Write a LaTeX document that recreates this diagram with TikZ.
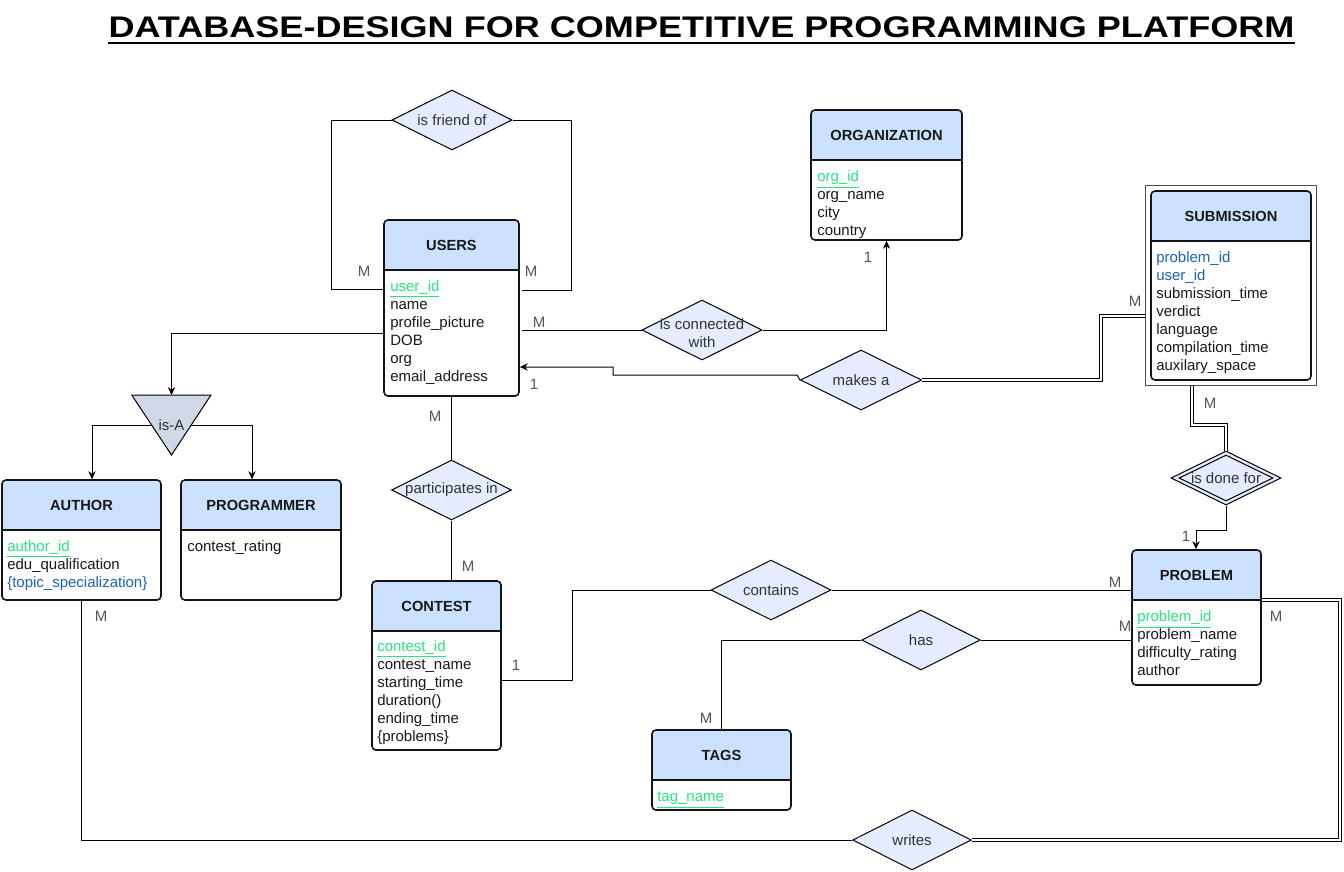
\documentclass[tikz,border=0pt]{standalone}
\usepackage{fontspec}
\setmainfont{Liberation Sans}
\usepackage{graphicx}
\usetikzlibrary{shapes.geometric,arrows.meta,fit,calc}
\definecolor{hdrfill}{RGB}{204,225,255}
\definecolor{diafill}{RGB}{230,236,255}
\definecolor{trifill}{RGB}{208,216,232}
\definecolor{keygreen}{RGB}{40,228,130}
\definecolor{fkblue}{RGB}{30,100,180}
\definecolor{txtdark}{RGB}{25,25,25}
\definecolor{diatext}{RGB}{50,50,50}
\definecolor{cardgray}{RGB}{85,85,85}
\definecolor{entline}{RGB}{20,20,20}
\newcommand\pk[1]{\textcolor{keygreen}{\underline{#1}}}
\newcommand\fk[1]{\textcolor{fkblue}{#1}}
\newcommand\erent[7]{%
  \fill[hdrfill,rounded corners=3pt] (#2,#6) -- (#2,#3) -- (#4,#3) -- (#4,#6);
  \node[fit={(#2,#3)(#4,#5)},inner sep=0pt,draw=entline,line width=1.2pt,rounded corners=3pt] (#1) {};
  \draw[entline,line width=1.2pt] (#2,#6) -- (#4,#6);
  \node[hdrtext] (#1h) at ($(#2,#3)!0.5!(#4,#6)$) {#7};
}
\begin{document}
\begin{tikzpicture}[x=0.75pt,y=-0.75pt,
  hdrtext/.style={font=\fontsize{11}{13}\selectfont\bfseries,text=txtdark,inner sep=0pt},
  attr/.style={font=\fontsize{11.25}{13.5}\selectfont,text=txtdark,inner sep=0pt,anchor=north west,align=left},
  rel/.style={diamond,draw=black,line width=0.75pt,fill=diafill,inner sep=0pt,minimum width=90pt,minimum height=45pt,font=\fontsize{11.25}{13.5}\selectfont,text=diatext},
  card/.style={font=\fontsize{11.25}{13.5}\selectfont,text=cardgray,inner sep=0pt},
  link/.style={draw=black,line width=0.75pt},
  arr/.style={-{Stealth[length=6pt,width=5.5pt]}},
  dbl/.style={draw=black,double=white,double distance=2pt,line width=0.85pt}
]
\useasboundingbox (0,0) rectangle (1344,871);
\fill[white] (0,0) rectangle (1344,871);

% title
\node[anchor=base,inner sep=0pt,text=black] (title) at (701.5,37)
  {\scalebox{1.21}[1]{\fontsize{22.35}{26}\selectfont\bfseries DATABASE-DESIGN FOR COMPETITIVE PROGRAMMING PLATFORM}};
\draw[line width=1.5pt] ([yshift=-4.3pt]title.base west) -- ([yshift=-4.3pt]title.base east);

% entities
\erent{users}{384}{220}{519}{396}{270}{USERS}
\node[attr] (usersa) at (390,279) {\strut\pk{user\_id}\\name\\profile\_picture\\DOB\\org\\email\_address};

\erent{org}{811}{110}{962}{240}{160}{ORGANIZATION}
\node[attr] (orga) at (817,169) {\strut\pk{org\_id}\\org\_name\\city\\country};

\node[fit={(1145,185)(1316,385)},inner sep=0pt,draw=black!70,line width=0.75pt] (subo) {};
\erent{subm}{1151}{191}{1311}{380}{241}{SUBMISSION}
\node[attr] (subma) at (1156,250) {\strut\fk{problem\_id}\\\fk{user\_id}\\submission\_time\\verdict\\language\\compilation\_time\\auxilary\_space};

\erent{author}{2}{480}{161}{600}{530}{AUTHOR}
\node[attr] (authora) at (7,539) {\strut\pk{author\_id}\\edu\_qualification\\\fk{\{topic\_specialization\}}};

\erent{prog}{181}{480}{341}{600}{530}{PROGRAMMER}
\node[attr] (proga) at (187,539) {\strut contest\_rating};

\erent{contest}{372}{581}{501}{750}{631}{CONTEST}
\node[attr] (contesta) at (377,639) {\strut\pk{contest\_id}\\contest\_name\\starting\_time\\duration()\\ending\_time\\\{problems\}};

\erent{prob}{1132}{550}{1261}{685}{600}{PROBLEM}
\node[attr] (proba) at (1137,609) {\strut\pk{problem\_id}\\problem\_name\\difficulty\_rating\\author};

\erent{tags}{652}{730}{791}{810}{780}{TAGS}
\node[attr] (tagsa) at (657,789) {\strut\pk{tag\_name}};

% relationships
\node[rel] (dfriend) at (452,120) {\makebox[0pt]{is friend of}};
\node[rel] (dconn) at (702,330) {};
\node[font=\fontsize{11.25}{13.5}\selectfont,text=diatext,inner sep=0pt,align=center] (dconnt) at (702,333.5) {is connected\\with};
\node[rel,minimum width=91pt] (dmakes) at (861,380) {\makebox[0pt]{makes a}};
\node[rel,minimum width=82.5pt,minimum height=40.5pt] (ddone) at (1226,478) {};
\node[diamond,draw=black,line width=0.75pt,inner sep=0pt,minimum width=70.5pt,minimum height=34.5pt,font=\fontsize{11.25}{13.5}\selectfont,text=diatext] (ddonein) at (1226,478) {\makebox[0pt]{is done for}};
\node[rel] (dpart) at (451.5,490) {\makebox[0pt]{participates in}};
\node[rel] (dcont) at (771,590) {\makebox[0pt]{contains}};
\node[rel,minimum width=89pt] (dhas) at (921,640) {\makebox[0pt]{has}};
\node[rel,minimum width=89pt] (dwrites) at (912,840) {\makebox[0pt]{writes}};

% is-A triangle
\coordinate (isatop) at (171.5,395);
\filldraw[fill=trifill,draw=black,line width=0.75pt] (131.7,395) -- (211,395) -- (171.5,455) -- cycle;
\node[font=\fontsize{11.25}{13.5}\selectfont,text=diatext,inner sep=0pt] (isa) at (171.5,425) {is-A};

% connectors
\coordinate (fl) at (331,289);
\coordinate (fr) at (571,290);
\draw[link] (dfriend.west) -| (fl) -- (fl -| users.west);
\draw[link] (dfriend.east) -| (fr) -- ([xshift=2pt]fr -| users.east);

\draw[link] ([xshift=2pt]users.east |- dconn.west) -- (dconn.west);
\draw[link,arr] (dconn.east) -| (org.south);

\coordinate (mk1) at (797,375);
\coordinate (mk2) at (613,367);
\draw[link,arr] (dmakes.west) -- (mk1) -| (mk2) -- (mk2 -| users.east);
\coordinate (mk3) at (1101,316);
\draw[dbl] (dmakes.east) -| (mk3) -- (mk3 -| subo.west);

\coordinate (sd1) at (1192,425);
\draw[dbl] (sd1 |- subo.south) -- (sd1) -| (ddone.north);
\coordinate (pd) at (1196,530);
\draw[link,arr] (ddone.south) |- (pd) -- (pd |- prob.north);

\draw[link] (users.south) -- (dpart.north);
\draw[link] (dpart.south) -- (dpart.south |- contest.north);

\coordinate (ua) at (171.5,333);
\draw[link,arr] (ua -| users.west) -| (isatop);
\coordinate (isal) at (151.6,425);
\coordinate (isar) at (191.3,425);
\coordinate (aa) at (92,425);
\coordinate (pa) at (252,425);
\draw[link,arr] (isal) -- (aa) -- (aa |- author.north);
\draw[link,arr] (isar) -- (pa) -- (pa |- prog.north);

\draw[link] (author.south) |- (dwrites.west);
\coordinate (wr) at (1340,600);
\draw[dbl] (dwrites.east) -| (wr) -- (wr -| prob.east);

\coordinate (ct) at (572,680);
\draw[link] (prob.west |- dcont.east) -- (dcont.east);
\draw[link] (dcont.west) -| (ct) -- (ct -| contest.east);
\draw[link] (prob.west |- dhas.east) -- (dhas.east);
\draw[link] (dhas.west) -| (tags.north);

% cardinalities
\node[card] (c1) at (364,271) {M};
\node[card] (c2) at (531,271) {M};
\node[card] (c3) at (539,322) {M};
\node[card] (c4) at (868,257) {1};
\node[card] (c5) at (534,384) {1};
\node[card] (c6) at (1135,301) {M};
\node[card] (c7) at (1210,403) {M};
\node[card] (c8) at (1186,536) {1};
\node[card] (c9) at (435,416) {M};
\node[card] (c10) at (468,566) {M};
\node[card] (c11) at (101,616) {M};
\node[card] (c12) at (516,665) {1};
\node[card] (c13) at (1115,582) {M};
\node[card] (c14) at (1125,626) {M};
\node[card] (c15) at (706,718) {M};
\node[card] (c16) at (1276,616) {M};
\end{tikzpicture}
\end{document}
